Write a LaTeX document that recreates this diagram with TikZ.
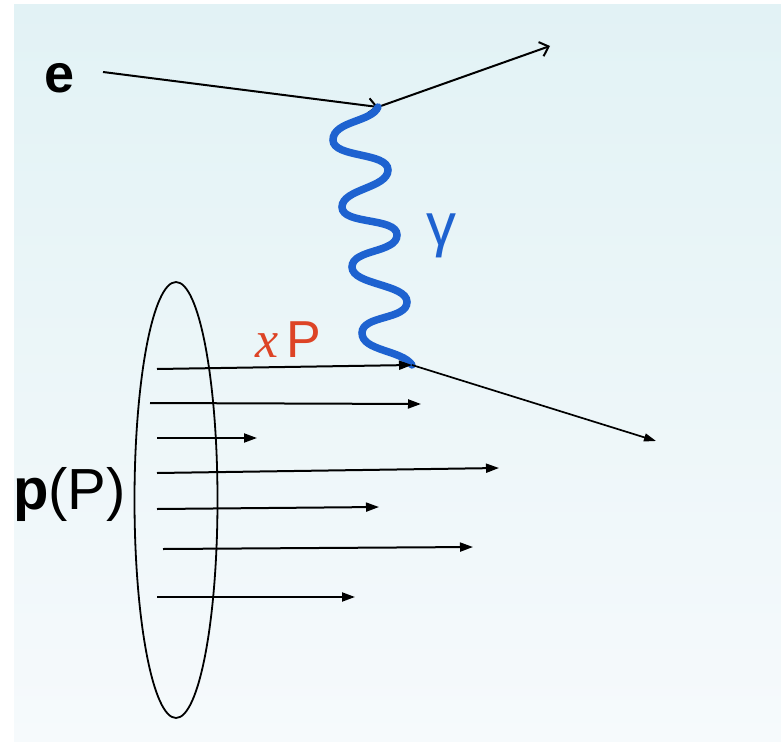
\documentclass[tikz,border=0pt]{standalone}
\usepackage{fontspec}
\setmainfont{Liberation Sans}
\newfontfamily\serifx{Liberation Serif}
\usetikzlibrary{arrows.meta,shapes.geometric}
\definecolor{bgtop}{RGB}{226,242,245}
\definecolor{bgbot}{RGB}{246,250,252}
\definecolor{phblue}{RGB}{30,98,208}
\definecolor{xred}{RGB}{221,68,38}
\begin{document}
\begin{tikzpicture}[x=1pt,y=-1pt,
  lbl/.style={inner sep=0pt, outer sep=0pt},
  elec/.style={line width=2pt, -{Straight Barb[length=8pt,width=15pt,line width=2pt]}},
  parton/.style={line width=2pt, -{Triangle[length=13pt,width=9pt]}},
  photon/.style={phblue, line width=7.5pt, line cap=round},
  thinarrow/.style={line width=1.7pt, -{Triangle[length=12pt,width=8pt]}}]
\useasboundingbox (0,0) rectangle (781,741);
\shade[top color=bgtop, bottom color=bgbot] (14,5) rectangle (781,741);

% vertices
\coordinate (vt) at (378,107);
\coordinate (vb) at (412,365);
\coordinate (ein) at (103,72);
\coordinate (eup) at (550,46);
\coordinate (eout) at (656,441);

% labels
\node[lbl, font=\bfseries\fontsize{54}{60}\selectfont] (e) at (60,78) {e};
\node[lbl, anchor=west, font=\fontsize{58}{60}\selectfont] (pP) at (13,494) {\textbf{p}(P)};
\node[lbl, text=phblue, font=\fontsize{60}{64}\selectfont] (gam) at (441,236) {γ};
\node[lbl, text=xred, anchor=base west, font=\fontsize{52}{56}\selectfont] (xP) at (255,357) {{\serifx\itshape x}\,P};

% ellipse
\node[draw, ellipse, line width=1.8pt, minimum width=83pt, minimum height=436pt, inner sep=0pt] (ell) at (176,500) {};

% electron lines
\draw[elec] (ein) -- (vt);
\draw[elec] (vt) -- (eup);

% photon
\draw[photon] (vt) .. controls (372,122) and (333,121) .. (333,140)
  .. controls (333,158) and (388,152) .. (388,170)
  .. controls (388,188) and (342,189) .. (342,207)
  .. controls (342,225) and (397,217) .. (397,235)
  .. controls (397,253) and (352,249) .. (352,267)
  .. controls (352,285) and (407,284) .. (407,302)
  .. controls (407,320) and (362,315) .. (362,333)
  .. controls (362,351) and (402,350) .. (vb);

% scattered electron
\draw[thinarrow] (vb) -- (eout);

% partons
\coordinate (s1) at (157,369);
\coordinate (s2) at (150,403); \coordinate (t2) at (421,404);
\coordinate (s3) at (157,438); \coordinate (t3) at (257,438);
\coordinate (s4) at (157,473); \coordinate (t4) at (499,468);
\coordinate (s5) at (157,509); \coordinate (t5) at (379,507);
\coordinate (s6) at (163,549); \coordinate (t6) at (473,547);
\coordinate (s7) at (157,597); \coordinate (t7) at (355,597);
\draw[parton] (s1) -- (vb);
\draw[parton] (s2) -- (t2);
\draw[parton] (s3) -- (t3);
\draw[parton] (s4) -- (t4);
\draw[parton] (s5) -- (t5);
\draw[parton] (s6) -- (t6);
\draw[parton] (s7) -- (t7);
\end{tikzpicture}
\end{document}
